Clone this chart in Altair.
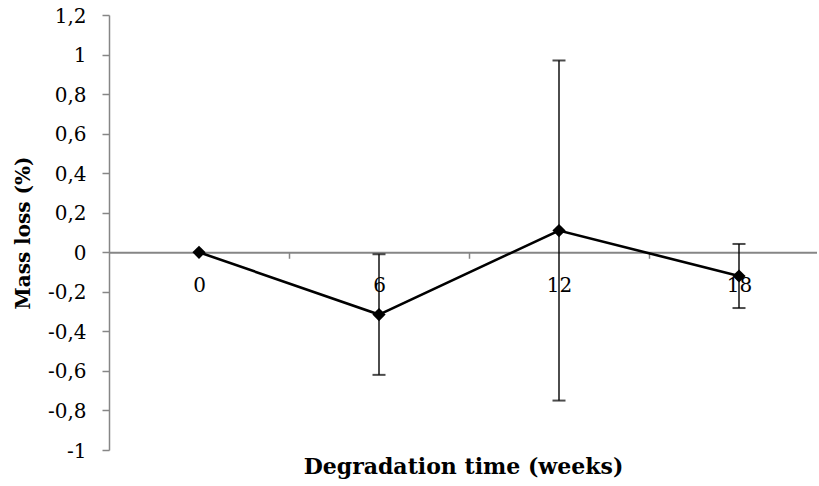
import altair as alt
import pandas as pd

# Mass loss over degradation time (mean ± standard deviation)
weeks = [0, 6, 12, 18]
mass_loss = [0.0, -0.315, 0.11, -0.12]
std_dev = [0.0, 0.305, 0.86, 0.162]

y_ticks = [-1.0, -0.8, -0.6, -0.4, -0.2, 0.0, 0.2, 0.4, 0.6, 0.8, 1.0, 1.2]
x_ticks = [0, 3, 6, 9, 12, 15, 18]

df = pd.DataFrame({"week": weeks, "mass": mass_loss, "err": std_dev})

FONT = "DejaVu Serif"
GREY = "#868686"
W, H = 708, 435
Y_MIN, Y_MAX = -1.0, 1.2
X_MIN, X_MAX = -3, 20.6

# place the category axis on the zero line
zero_px = H * (Y_MAX - 0) / (Y_MAX - Y_MIN)
x_offset = -(H - zero_px)

x_scale = alt.Scale(domain=[X_MIN, X_MAX], nice=False, zero=False)
y_scale = alt.Scale(domain=[Y_MIN, Y_MAX], nice=False, zero=False)

x_axis = alt.Axis(
    values=x_ticks,
    tickCount=len(x_ticks) + 5,
    offset=x_offset,
    grid=False,
    domainColor=GREY,
    domainWidth=2,
    tickColor=GREY,
    tickWidth=1.5,
    tickSize=6,
    tickOpacity={"condition": {"test": "datum.value % 6 === 0", "value": 0}, "value": 1},
    labelExpr="datum.value % 6 === 0 ? datum.label : ''",
    labelFont=FONT,
    labelFontSize=20,
    labelColor="black",
    labelPadding=17,
    labelOverlap=False,
    title="Degradation time (weeks)",
    titleFont=FONT,
    titleFontSize=22,
    titleFontWeight="bold",
    titleColor="black",
    titleY=451 - zero_px,
    titleBaseline="middle",
)

y_axis = alt.Axis(
    values=y_ticks,
    tickCount=len(y_ticks) + 5,
    grid=False,
    domainColor=GREY,
    domainWidth=1.5,
    tickColor=GREY,
    tickWidth=1.5,
    tickSize=7,
    labelExpr="replace(replace(format(datum.value, '.1~f'), '.', ','), '\u2212', '-')",
    labelFont=FONT,
    labelFontSize=20,
    labelColor="black",
    labelPadding=16,
    labelOverlap=False,
    labelBound=False,
    labelBaseline="middle",
    labelOffset=1,
    title="Mass loss (%)",
    titleFont=FONT,
    titleFontSize=20,
    titleFontWeight="bold",
    titleColor="black",
    titleX=-76,
)

base = alt.Chart(df)

errors = base.transform_filter("datum.err > 0").transform_calculate(
    lo="datum.mass - datum.err", hi="datum.mass + datum.err"
)

err_rule = errors.mark_rule(color="black", strokeWidth=1.4).encode(
    x=alt.X("week:Q", scale=x_scale, axis=x_axis),
    y=alt.Y("lo:Q", scale=y_scale, axis=y_axis),
    y2="hi:Q",
)
cap_lo = errors.mark_tick(orient="horizontal", color="black", size=13, thickness=2).encode(
    x="week:Q", y="lo:Q"
)
cap_hi = errors.mark_tick(orient="horizontal", color="black", size=13, thickness=2).encode(
    x="week:Q", y="hi:Q"
)

line = base.mark_line(color="black", strokeWidth=2.6).encode(
    x="week:Q", y="mass:Q"
)
points = base.mark_point(shape="diamond", filled=True, color="black", size=175, opacity=1).encode(
    x="week:Q", y="mass:Q"
)

chart = (
    alt.layer(err_rule, cap_lo, cap_hi, line, points)
    .properties(
        width=W,
        height=H,
        autosize=alt.AutoSizeParams(type="none"),
        padding={"left": 109, "top": 15, "right": 0, "bottom": 36},
        background="white",
    )
    .configure_view(stroke=None)
)

chart.save("out.html", embed_options={"renderer": "svg", "actions": False})
